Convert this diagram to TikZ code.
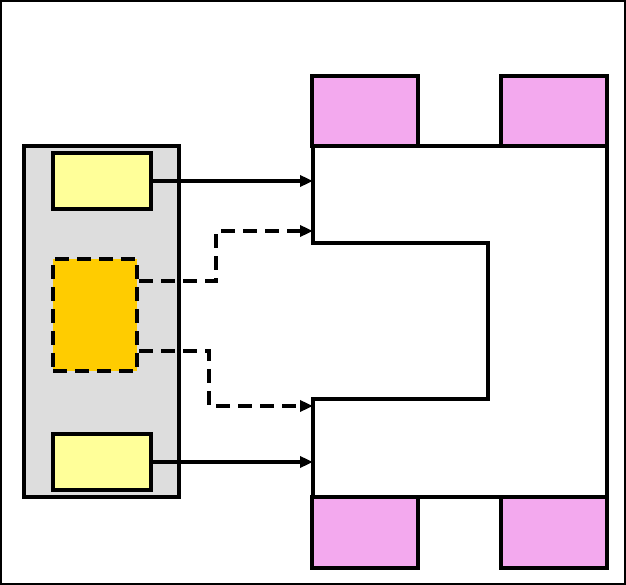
\documentclass[tikz,border=0pt]{standalone}
\usetikzlibrary{arrows.meta,positioning}
\definecolor{boardgray}{HTML}{DDDDDD}
\definecolor{padyellow}{HTML}{FFFF99}
\definecolor{coreorange}{HTML}{FFCC00}
\definecolor{tabpink}{HTML}{F3A9EE}
\begin{document}
\begin{tikzpicture}[x=1cm,y=1cm]
\tikzset{
  blockbox/.style={rectangle,draw=black,line width=2.3pt,inner sep=0pt,line join=miter},
  boardbox/.style={blockbox,fill=boardgray,minimum width=3.10cm,minimum height=7.02cm},
  padbox/.style={blockbox,fill=padyellow,minimum width=1.96cm,minimum height=1.12cm},
  corebox/.style={blockbox,fill=coreorange,dash pattern=on 2.8mm off 1.6mm,minimum width=1.68cm,minimum height=2.24cm},
  tabbox/.style={blockbox,fill=tabpink,minimum width=2.12cm,minimum height=1.41cm},
  link/.style={draw=black,line width=2.1pt,-{Triangle[length=2.6mm,width=2.2mm]}},
  dashlink/.style={link,dash pattern=on 2.8mm off 1.6mm}
}
\useasboundingbox (0,0) rectangle (12.52,-11.70);
\draw[line width=1.5pt] (0.02,-0.02) rectangle (12.50,-11.68);
% left board
\node[boardbox] (n_board) at (2.03,-6.43) {};
\node[padbox] (n_padT) at (2.04,-3.62) {};
\node[padbox] (n_padB) at (2.04,-9.24) {};
\node[corebox] (n_core) at (1.90,-6.30) {};
% pink tabs
\node[tabbox] (n_tabTL) at (7.30,-2.22) {};
\node[tabbox] (n_tabTR) at (11.08,-2.22) {};
\node[tabbox] (n_tabBL) at (7.30,-10.65) {};
\node[tabbox] (n_tabBR) at (11.08,-10.65) {};
% C shaped body
\draw[line width=2.3pt,fill=white] (6.26,-2.92) -- (12.14,-2.92) -- (12.14,-9.94) -- (6.26,-9.94)
  -- (6.26,-7.98) -- (9.76,-7.98) -- (9.76,-4.86) -- (6.26,-4.86) -- cycle;
\coordinate (c_a) at (6.26,-3.62);
\coordinate (c_b) at (6.26,-4.62);
\coordinate (c_c) at (6.26,-8.12);
\coordinate (c_d) at (6.26,-9.24);
% connections
\draw[link] (n_padT.east) -- (c_a);
\draw[link] (n_padB.east) -- (c_d);
\draw[dashlink] ([yshift=6.8mm]n_core.east) -- ++(1.54,0) |- (c_b);
\draw[dashlink] ([yshift=-7.2mm]n_core.east) -- ++(1.40,0) |- (c_c);
\end{tikzpicture}
\end{document}
